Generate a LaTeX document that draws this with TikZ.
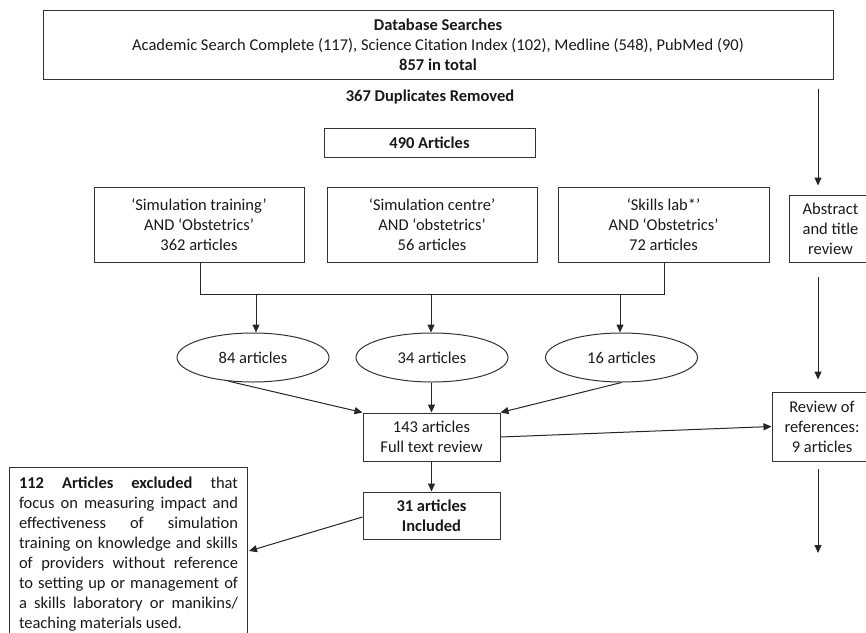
\documentclass[tikz,border=0pt]{standalone}
\usepackage{fontspec}
\setmainfont{Carlito}
\usetikzlibrary{shapes.geometric,arrows.meta,calc}
\newcommand{\jline}[1]{\hbox to 219pt{#1}}
\begin{document}
\begin{tikzpicture}[x=1pt,y=-1pt,
  every node/.style={font=\fontsize{16.5}{20}\selectfont, text=black!90},
  box/.style={draw=black!80, line width=1pt, inner sep=0pt, align=center},
  oval/.style={draw=black!80, line width=1pt, ellipse, inner sep=0pt, minimum width=152pt, minimum height=49pt},
  link/.style={draw=black!85, line width=1pt},
  arr/.style={link, -{Triangle[length=8pt,width=7pt]}}]
\useasboundingbox (0,0) rectangle (866,632);
\clip (0,0) rectangle (866,632);

% top
\node[box, minimum width=790pt, minimum height=69pt] (db) at (438,44.5)
  {\textbf{Database Searches}\\Academic Search Complete (117), Science Citation Index (102), Medline (548), PubMed (90)\\\textbf{857 in total}};
\node (dup) at (430,97) {\textbf{367 Duplicates Removed}};
\node[box, minimum width=211pt, minimum height=29pt] (a490) at (429.5,142.5) {\textbf{490 Articles}};

% search boxes
\node[box, minimum width=210pt, minimum height=75pt] (s1) at (199,224.5) {‘Simulation training’\\AND ‘Obstetrics’\\362 articles};
\node[box, minimum width=210pt, minimum height=75pt] (s2) at (432,224.5) {‘Simulation centre’\\AND ‘obstetrics’\\56 articles};
\node[box, minimum width=211pt, minimum height=75pt] (s3) at (663.5,224.5) {‘Skills lab*’\\AND ‘Obstetrics’\\72 articles};

% ellipses
\node[oval] (e1) at (253,357.5) {84 articles};
\node[oval] (e2) at (432,357.5) {34 articles};
\node[oval] (e3) at (621.5,357.5) {16 articles};

% merge line
\coordinate (jl) at (200,294);
\coordinate (jr) at (664,294);
\draw[link] (s1.south -| jl) -- (jl) -- (jr) -- (s3.south -| jr);
\draw[arr] (jl -| e1.north) ++(3,0) -- ($(e1.north)+(3,0)$);
\draw[arr] (jl -| e2.north) ++(-1,0) -- ($(e2.north)+(-1,0)$);
\draw[arr] (jl -| e3.north) ++(-1.5,0) -- ($(e3.north)+(-1.5,0)$);

% review / included
\node[box, minimum width=137pt, minimum height=48pt] (f143) at (431.5,437) {143 articles\\Full text review};
\node[box, minimum width=137pt, minimum height=47pt] (i31) at (431.5,515.5) {\textbf{31 articles}\\\textbf{Included}};

\draw[arr] (e1.224) -- (f143.north west);
\draw[arr] (e2.south -| f143.north) -- (f143.north);
\draw[arr] (e3.south) -- (f143.north east);
\draw[arr] (f143.south) -- (i31.north);

% excluded
\node[box, anchor=north west, text width=219pt, inner xsep=9.5pt, inner ysep=9.5pt, align=left] (excl) at (9,467)
  {\spaceskip=0.22em plus 1fil\relax
   \jline{\textbf{112 Articles excluded} that}
   \jline{focus on measuring impact and}
   \jline{effectiveness of simulation}
   \jline{training on knowledge and skills}
   \jline{of providers without reference}
   \jline{to setting up or management of}
   \jline{a skills laboratory or manikins/}
   \hbox{teaching materials used.}};
\draw[arr] (i31.west) ++(0,1.5) -- ($(excl.north east)+(1,84)$);

% right column
\coordinate (rc) at (818,0);
\node[box, minimum width=83pt, minimum height=67pt] (abs) at (830.5,228.5) {Abstract\\and title\\review};
\node[box, minimum width=100pt, minimum height=69pt] (rev) at (822,426.5) {Review of\\references:\\9 articles};
\coordinate (fin) at (818,553);
\draw[arr, shorten <=9pt, shorten >=9pt] (db.south -| rc) -- (abs.north -| rc);
\draw[arr, shorten <=14pt, shorten >=12pt] (abs.south -| rc) -- (rev.north -| rc);
\draw[arr, shorten <=7pt] (rev.south -| rc) -- (fin);
\draw[arr] (f143.east) -- (rev.west);
\end{tikzpicture}
\end{document}
